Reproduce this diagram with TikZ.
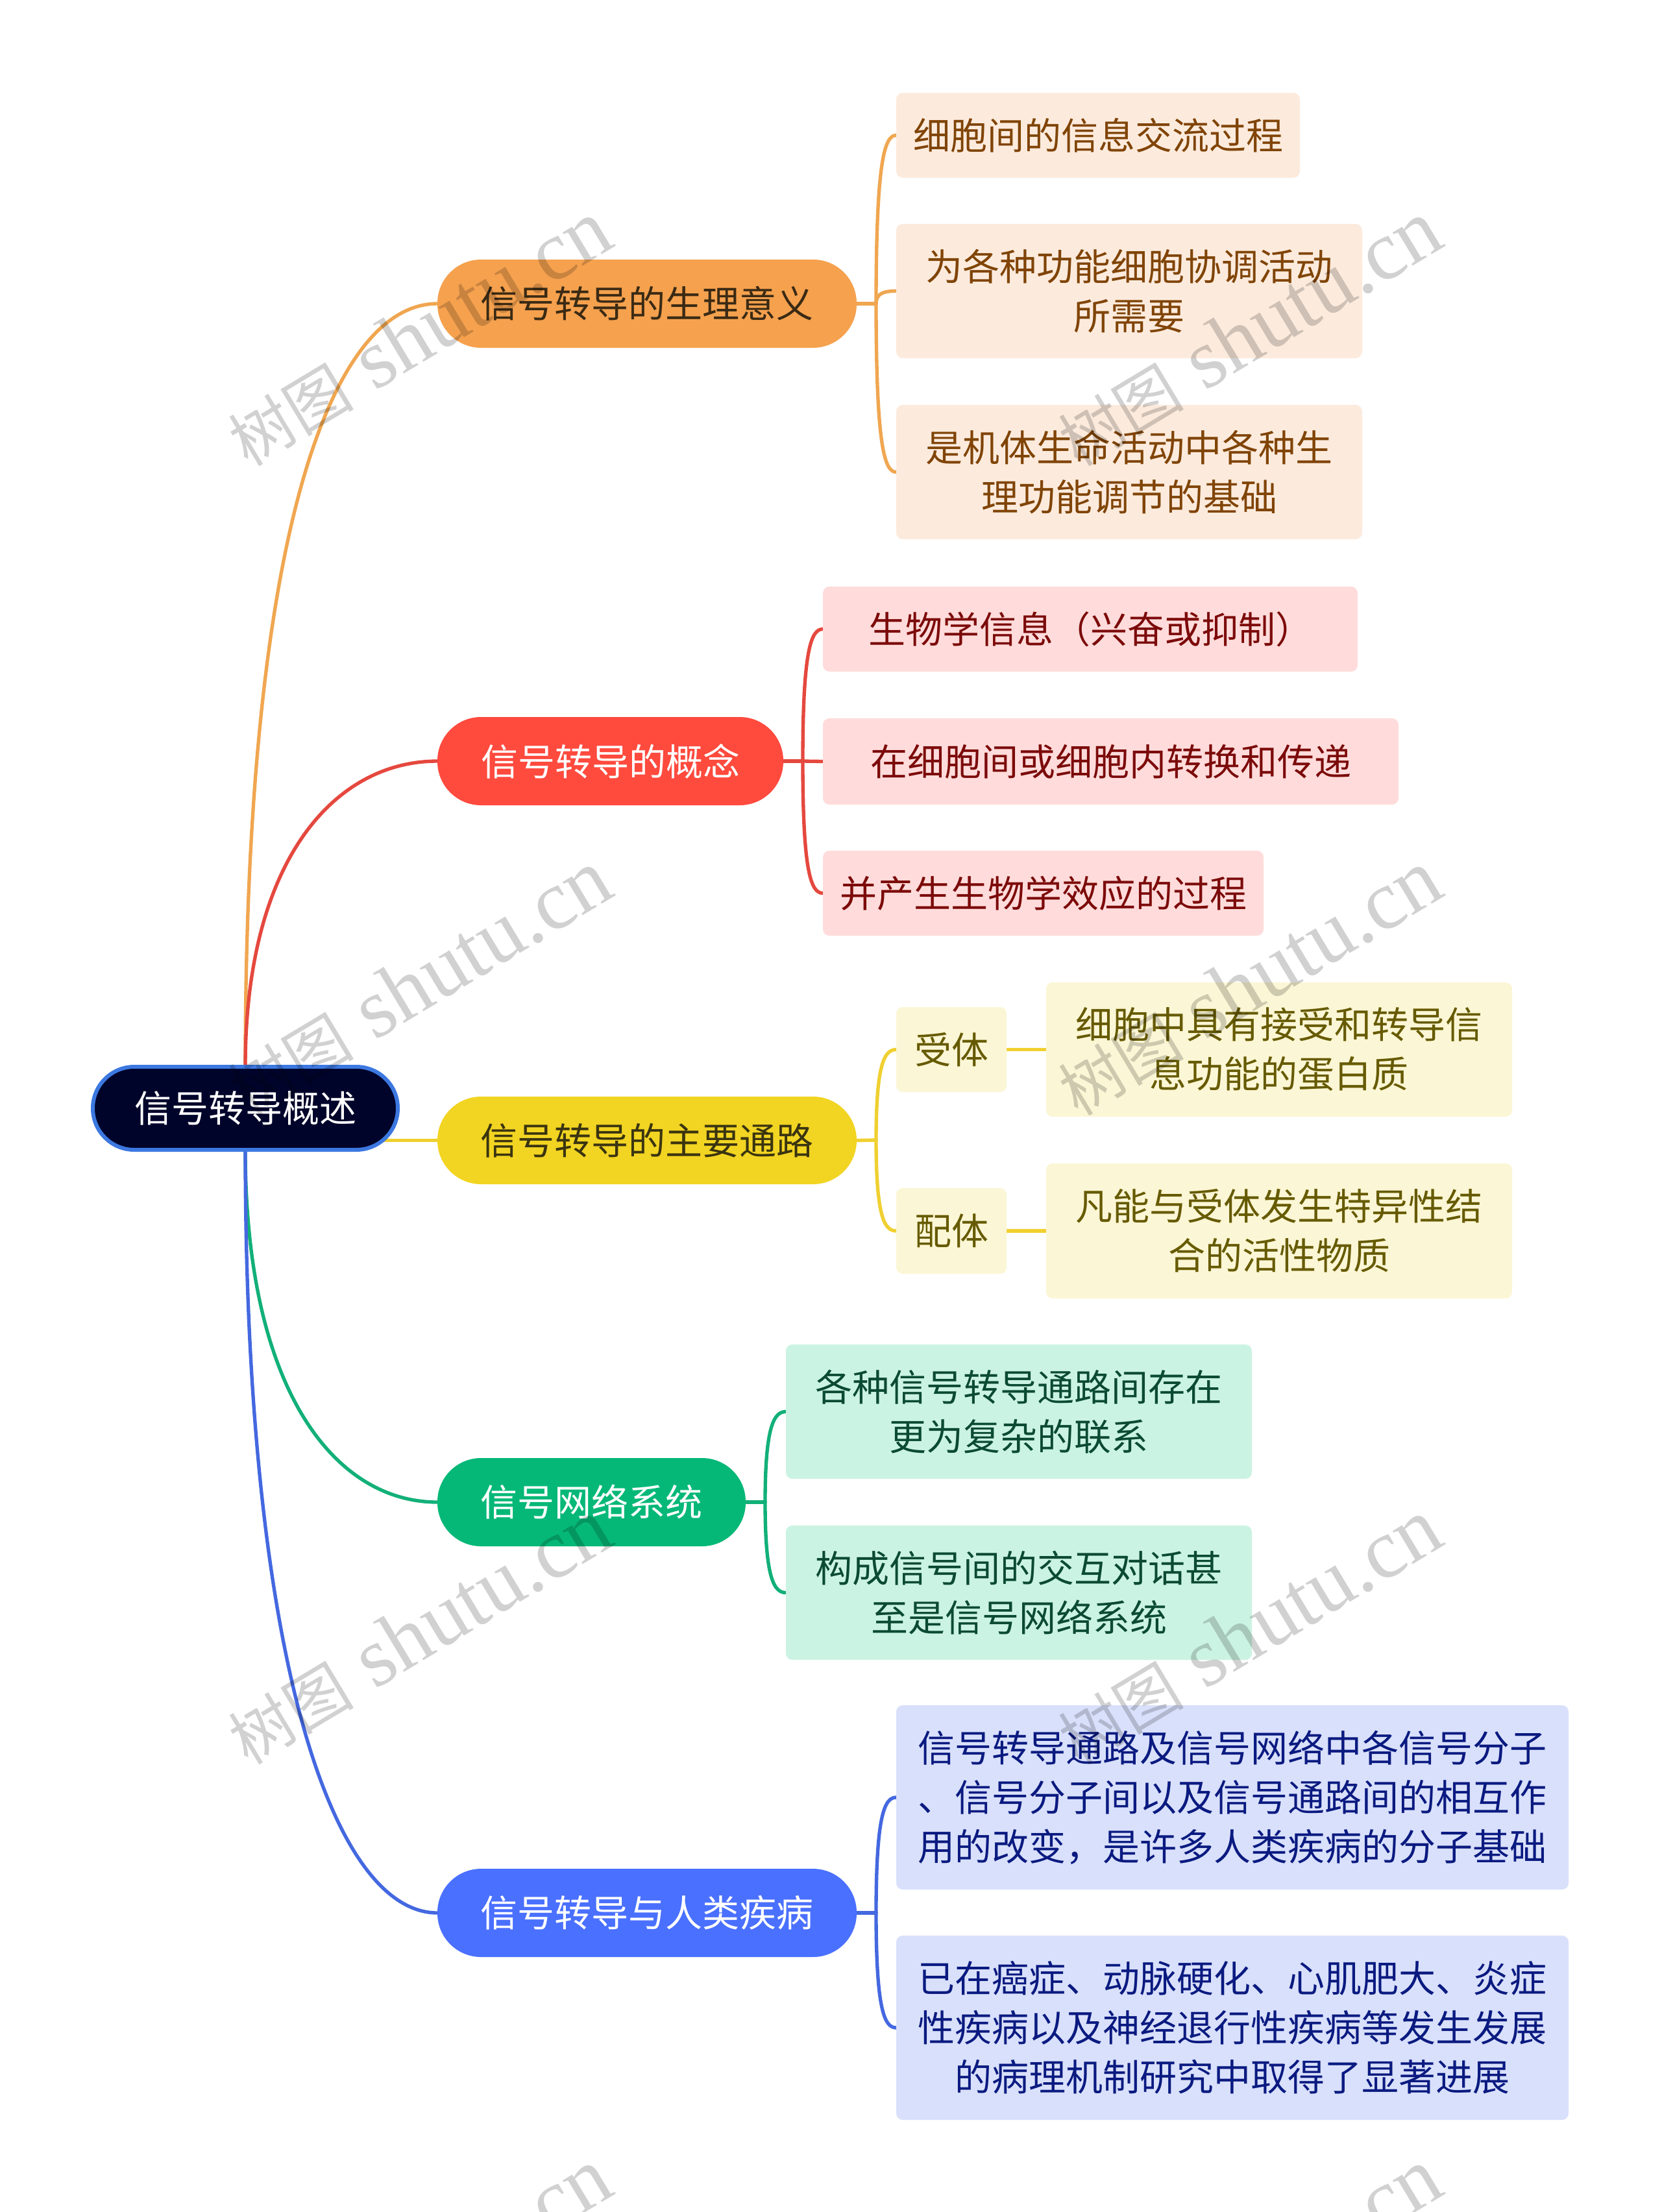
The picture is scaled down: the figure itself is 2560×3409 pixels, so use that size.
\documentclass[tikz,border=0pt]{standalone}
\usepackage{fontspec}
\setmainfont{Noto Sans CJK SC}
\newfontfamily\wmcjk{Noto Sans CJK SC}
\newfontfamily\wmlat{Liberation Serif}
\usetikzlibrary{calc,backgrounds}
\definecolor{rootfill}{HTML}{00042A}\definecolor{rootline}{HTML}{3C78E0}
\definecolor{oc}{HTML}{F5A14E}\definecolor{ol}{HTML}{FCEBDD}\definecolor{ot}{HTML}{804406}\definecolor{od}{HTML}{3A2A14}
\definecolor{rc}{HTML}{FF4A3E}\definecolor{rl}{HTML}{FFDCDB}\definecolor{rt}{HTML}{7C0A0A}
\definecolor{yc}{HTML}{F2D422}\definecolor{yl}{HTML}{FBF6D5}\definecolor{yt}{HTML}{665A00}\definecolor{yd}{HTML}{3A3410}
\definecolor{gc}{HTML}{06B877}\definecolor{gl}{HTML}{CBF3E3}\definecolor{gt}{HTML}{0B4A33}
\definecolor{bc}{HTML}{4A70FF}\definecolor{bl}{HTML}{D9E0FB}\definecolor{bt}{HTML}{0A1A80}
\definecolor{ocl}{HTML}{F0A650}\definecolor{rcl}{HTML}{E5483E}\definecolor{ycl}{HTML}{F0D030}\definecolor{gcl}{HTML}{12B079}\definecolor{bcl}{HTML}{4468E0}
\tikzset{
  txt/.style={font=\fontsize{17.1}{22.8}\selectfont,align=center,inner sep=0pt,outer sep=0pt},
  pill/.style={txt,rounded corners=20.2pt},
  rootpill/.style={txt,rounded corners=19.2pt},
  leaf/.style={txt,rounded corners=3pt},
  conn/.style={line width=1.6pt,line cap=round},
  wm/.style={rotate=31,text=black,opacity=0.18,inner sep=0pt}
}
\newcommand{\mybox}[7]{\node[#6,minimum width={(#4-#2)*0.3pt},minimum height={(#5-#3)*0.3pt}] (#1) at ({(#2+#4)/2},{(#3+#5)/2}) {#7};}
\newcommand{\stem}[3]{\draw[conn,#3] (#1.east) -- (#2);}
% bracket from spine #1 to leaf #2 in colour #3
\newcommand{\brk}[3]{\draw[conn,#3] (#1) .. controls ($(#1)!0.85!(#1|-#2.west)$) and ($(#2.west)+(-18,0)$) .. (#2.west);}
\newcommand{\branch}[4]{\draw[conn,#4] (#1) .. controls ($(#1)!#3!(#1|-#2.west)$) and ($(#2.west)+(-157,0)$) .. (#2.west);}
\newcommand{\wmark}[3]{\node[wm] (#1) at (#2,#3) {{\wmcjk\fontsize{29}{32}\selectfont 树图}\hspace{10pt}{\wmlat\fontsize{39}{42}\selectfont shutu.cn}};}
\begin{document}
\begin{tikzpicture}[x=0.3pt,y=-0.3pt]
\useasboundingbox (0,0) rectangle (2560,3409);
\mybox{root}{143}{1644}{613}{1772}{rootpill,fill=rootfill,draw=rootline,line width=1.8pt,text=white}{信号转导概述}
\mybox{n1}{674}{400}{1320}{536}{pill,fill=oc,text=od}{信号转导的生理意义}
\mybox{n2}{674}{1105}{1207}{1241}{pill,fill=rc,text=white}{信号转导的概念}
\mybox{n3}{674}{1690}{1320}{1825}{pill,fill=yc,text=yd}{信号转导的主要通路}
\mybox{n4}{674}{2247}{1149}{2383}{pill,fill=gc,text=white}{信号网络系统}
\mybox{n5}{674}{2880}{1320}{3016}{pill,fill=bc,text=white}{信号转导与人类疾病}
\mybox{a1}{1381}{143}{2003}{274}{leaf,fill=ol,text=ot}{细胞间的信息交流过程}
\mybox{a2}{1381}{345}{2099}{552}{leaf,fill=ol,text=ot}{为各种功能细胞协调活动\\所需要}
\mybox{a3}{1381}{624}{2099}{831}{leaf,fill=ol,text=ot}{是机体生命活动中各种生\\理功能调节的基础}
\mybox{b1}{1268}{904}{2092}{1035}{leaf,fill=rl,text=rt}{生物学信息（兴奋或抑制）}
\mybox{b2}{1268}{1107}{2155}{1240}{leaf,fill=rl,text=rt}{在细胞间或细胞内转换和传递}
\mybox{b3}{1268}{1311}{1947}{1442}{leaf,fill=rl,text=rt}{并产生生物学效应的过程}
\mybox{c1}{1381}{1552}{1551}{1683}{leaf,fill=yl,text=yt}{受体}
\mybox{c2}{1612}{1514}{2330}{1721}{leaf,fill=yl,text=yt}{细胞中具有接受和转导信\\息功能的蛋白质}
\mybox{c3}{1381}{1831}{1551}{1963}{leaf,fill=yl,text=yt}{配体}
\mybox{c4}{1612}{1793}{2330}{2001}{leaf,fill=yl,text=yt}{凡能与受体发生特异性结\\合的活性物质}
\mybox{d1}{1211}{2072}{1929}{2279}{leaf,fill=gl,text=gt}{各种信号转导通路间存在\\更为复杂的联系}
\mybox{d2}{1211}{2351}{1929}{2558}{leaf,fill=gl,text=gt}{构成信号间的交互对话甚\\至是信号网络系统}
\mybox{e1}{1381}{2628}{2417}{2912}{leaf,fill=bl,text=bt}{信号转导通路及信号网络中各信号分子\\、信号分子间以及信号通路间的相互作\\用的改变，是许多人类疾病的分子基础}
\mybox{e2}{1381}{2983}{2417}{3267}{leaf,fill=bl,text=bt}{已在癌症、动脉硬化、心肌肥大、炎症\\性疾病以及神经退行性疾病等发生发展\\的病理机制研究中取得了显著进展}
\coordinate (sa) at (1350,468);
\coordinate (sb) at (1237,1173);
\coordinate (sc) at (1350,1757);
\coordinate (sd) at (1179,2315);
\coordinate (se) at (1350,2948);
\begin{scope}[on background layer]
\fill[white] (0,0) rectangle (2560,3409);
\branch{root.north}{n1}{0.72}{ocl}
\branch{root.north}{n2}{0.68}{rcl}
\draw[conn,ycl] (root.center|-n3.west) -- (n3.west);
\branch{root.south}{n4}{0.685}{gcl}
\branch{root.south}{n5}{0.68}{bcl}
\stem{n1}{sa}{ocl} \brk{sa}{a1}{ocl} \brk{sa}{a2}{ocl} \brk{sa}{a3}{ocl}
\stem{n2}{sb}{rcl} \brk{sb}{b1}{rcl} \brk{sb}{b3}{rcl}
\draw[conn,rcl] (sb) -- (b2.west);
\stem{n3}{sc}{ycl} \brk{sc}{c1}{ycl} \brk{sc}{c3}{ycl}
\draw[conn,ycl] (c1.east) -- (c2.west);
\draw[conn,ycl] (c3.east) -- (c4.west);
\stem{n4}{sd}{gcl} \brk{sd}{d1}{gcl} \brk{sd}{d2}{gcl}
\stem{n5}{se}{bcl} \brk{se}{e1}{bcl} \brk{se}{e2}{bcl}
\end{scope}
\wmark{w1}{646}{514}
\wmark{w2}{1925}{514}
\wmark{w3}{646}{1515}
\wmark{w4}{1925}{1515}
\wmark{w5}{646}{2515}
\wmark{w6}{1925}{2515}
\wmark{w7}{646}{3516}
\wmark{w8}{1925}{3516}
\end{tikzpicture}
\end{document}
